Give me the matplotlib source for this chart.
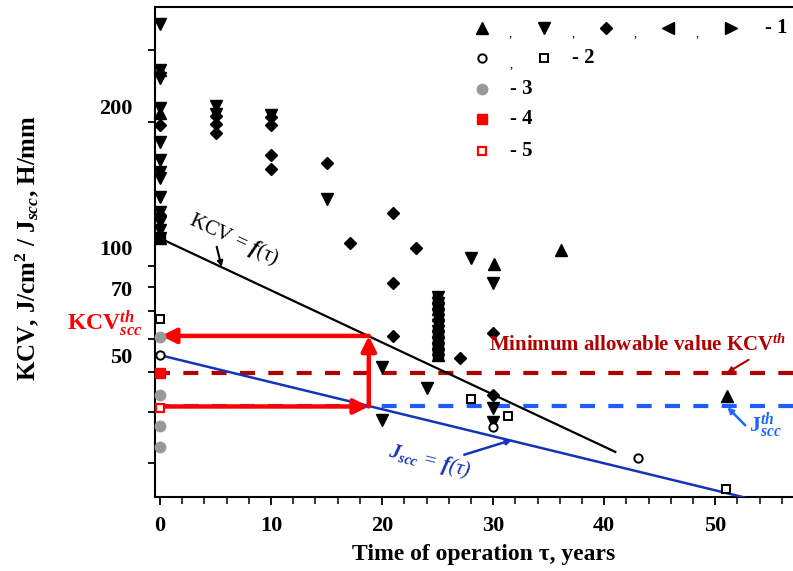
import matplotlib
matplotlib.use("Agg")
import matplotlib.pyplot as plt
import numpy as np

plt.rcParams['font.family'] = ['Liberation Serif', 'DejaVu Serif']
plt.rcParams['font.weight'] = 'bold'
plt.rcParams['mathtext.fontset'] = 'custom'
plt.rcParams['mathtext.rm'] = 'Liberation Serif:bold'
plt.rcParams['mathtext.it'] = 'Liberation Serif:italic:bold'
plt.rcParams['mathtext.bf'] = 'Liberation Serif:bold'
plt.rcParams['mathtext.sf'] = 'Liberation Serif:italic'

# ---------------- data ----------------
# series 1 (black filled markers)
tri_up_tau = [0, 0, 0, 36.1, 30.06, 51.1, 25, 25, 25, 25, 25, 25, 25, 25, 25, 25]
tri_up_val = [267.6, 210.7, 105.1, 98.3, 90.8, 43.7, 75.7, 73.2, 70.8, 68.5, 64.8, 62.7, 60.6, 58.6, 56.7, 54.8]

tri_dn_tau = [0, 0, 0, 0, 0, 0, 0, 0, 0, 0, 0, 0, 0,
              5, 5, 10, 15, 20, 20, 24, 28, 30, 30, 30,
              25, 25, 25, 25, 25, 25, 25, 25, 25, 25]
tri_dn_val = [345.6, 267.6, 256.0, 216.7, 179.3, 162.3, 151.8, 146.8, 132.1, 121.5, 114.9, 109.9, 105.1,
              219.0, 210.0, 208.0, 130.6, 51.4, 38.2, 45.6, 94.2, 81.7, 40.8, 37.8,
              75.7, 73.2, 70.8, 68.5, 64.8, 62.7, 60.6, 58.6, 56.7, 54.8]

diam_tau = [0, 0, 5, 5, 5, 10, 10, 10, 10, 15, 17.1, 21, 21, 21, 23.07, 27, 30, 30]
diam_val = [197.1, 119.5, 207.0, 198.6, 188.3, 206.0, 197.0, 166.8, 154.3, 159.8, 102.4,
            120.6, 81.7, 61.0, 99.3, 53.8, 61.9, 43.9]

tri_l_tau = [0, 25, 25, 25, 25, 25, 25]
tri_l_val = [105.1, 73.2, 68.5, 64.8, 60.6, 56.7, 54.8]
tri_r_tau = [0, 25, 25, 25, 25, 25, 25]
tri_r_val = [105.1, 75.7, 70.8, 62.7, 58.6, 56.7, 54.8]

# series 2 (open black)
circ_tau = [0, 30, 43]
circ_val = [54.8, 36.8, 31.0]
sq_tau = [0, 28, 31.3, 51]
sq_val = [67.0, 43.0, 39.1, 26.0]

# series 3 (grey)
grey_tau = [0, 0, 0, 0]
grey_val = [60.7, 43.9, 36.9, 32.9]

# series 4 / 5 (red)
red_fill_tau = [0]
red_fill_val = [49.7]
red_open_tau = [0]
red_open_val = [40.9]

# fitted trends
kcv_fit_tau = [0, 41]
kcv_fit_val = [105, 32]
j_fit_tau = [0, 53]
j_fit_val = [54.8, 24.7]

# thresholds
kcv_min = 49.7
j_th = 41.2
kcv_th_scc = 61.0
tau_cross = 18.8

x_major = [0, 10, 20, 30, 40, 50]
y_marks = [30, 40, 50, 60, 70, 80, 90, 100, 200, 300]
y_label_pos = [54.8, 79.6, 100, 219]
y_labels = ['50', '70', '100', '200']

# ---------------- figure ----------------
fig = plt.figure(figsize=(7.93, 5.71), dpi=100)
ax = fig.add_axes([0.1955, 0.1296, 0.8045, 0.8581])
ax.set_yscale('log')
ax.set_xlim(-0.45, 57)
ax.set_ylim(24.9, 380)

for s in ['left', 'bottom', 'top']:
    ax.spines[s].set_linewidth(1.5)
ax.spines['right'].set_visible(False)

ax.set_xticks(x_major)
ax.set_xticklabels([str(v) for v in x_major])
ax.set_xticks(np.arange(0, 57, 2), minor=True)
ax.tick_params(axis='x', which='major', length=6, width=1.3, direction='out', labelsize=16, pad=8)
ax.tick_params(axis='x', which='minor', length=5, width=1.1, direction='out')

ax.set_yticks(y_marks, minor=True)
ax.set_yticks(y_label_pos)
ax.set_yticklabels(y_labels)
ax.yaxis.set_minor_formatter(matplotlib.ticker.NullFormatter())
ax.tick_params(axis='y', which='major', length=0, labelsize=16, pad=16)
ax.tick_params(axis='y', which='minor', length=5, width=1.3, direction='out')

ax.set_xlabel('Time of operation \u03c4, years', fontsize=17, fontweight='bold', va='center')
ax.xaxis.set_label_coords(0.5157, -0.117)
ax.set_ylabel(r'KCV, J/cm$^{\mathbf{2}}$ / J$_{scc}$, H/mm', fontsize=18, fontweight='bold', va='center')
ax.yaxis.set_label_coords(-0.2, 0.508)

# threshold dashed lines
ax.axhline(kcv_min, color='#B00000', lw=3, dashes=(3.6, 3.2), zorder=2)
ax.axhline(j_th, color='#1E5EFF', lw=3, dashes=(3.6, 3.2), zorder=2)

# fits
ax.plot(kcv_fit_tau, kcv_fit_val, color='black', lw=1.6, zorder=3)
ax.plot(j_fit_tau, j_fit_val, color='#1433B8', lw=1.8, zorder=3)

# red construction arrows
arr = dict(arrowstyle='-|>', color='#FF0000', lw=3.2, mutation_scale=22, shrinkA=0, shrinkB=0)
ax.annotate('', xy=(tau_cross, j_th), xytext=(0, j_th), arrowprops=arr, zorder=4)
ax.annotate('', xy=(tau_cross, kcv_th_scc), xytext=(tau_cross, j_th), arrowprops=arr, zorder=4)
ax.annotate('', xy=(0.1, kcv_th_scc), xytext=(tau_cross, kcv_th_scc), arrowprops=arr, zorder=4)

# markers
mk = dict(linestyle='none', clip_on=False, zorder=5)
ax.plot(tri_up_tau, tri_up_val, '^', color='black', ms=8.5, **mk)
ax.plot(tri_dn_tau, tri_dn_val, 'v', color='black', ms=8.5, **mk)
ax.plot(diam_tau, diam_val, 'D', color='black', ms=6.6, **mk)
ax.plot(tri_l_tau, tri_l_val, '<', color='black', ms=7, **mk)
ax.plot(tri_r_tau, tri_r_val, '>', color='black', ms=7, **mk)
ax.plot(circ_tau, circ_val, 'o', mfc='white', mec='black', mew=1.4, ms=6, **mk)
ax.plot(sq_tau, sq_val, 's', mfc='white', mec='black', mew=1.4, ms=6, **mk)
ax.plot(grey_tau, grey_val, 'o', color='#999999', ms=7.5, **mk)
ax.plot(red_fill_tau, red_fill_val, 's', color='#FF0000', ms=7, **mk)
ax.plot(red_open_tau, red_open_val, 's', mfc='white', mec='#FF0000', mew=1.6, ms=6, **mk)

# annotations
ax.text(6.66, 104, 'KCV = $\\mathsf{f}$(\u03c4)', fontsize=15,
        fontweight='normal', rotation=-25, ha='center', va='center', zorder=6)
ax.annotate('', xy=(5.55, 89.6), xytext=(5.1, 100.2),
            arrowprops=dict(arrowstyle='-|>', color='black', lw=1.5, mutation_scale=8, shrinkA=0, shrinkB=0))

ax.text(24.3, 30.3, '$J_{scc}$ = $\\mathsf{f}$(\u03c4)', fontsize=15, color='#1433B8',
        fontweight='normal', style='italic', rotation=-14, ha='center', va='center', zorder=6)
ax.annotate('', xy=(31.7, 34.2), xytext=(27.4, 31.5),
            arrowprops=dict(arrowstyle='-|>', color='#1433B8', lw=1.8, mutation_scale=8, shrinkA=0, shrinkB=0))

ax.text(29.6, 58.0, 'Minimum allowable value KCV$^{th}$', fontsize=15, color='#B00000',
        ha='left', va='center', clip_on=False, zorder=6)
ax.annotate('', xy=(51.05, 49.7), xytext=(53.0, 53.4),
            arrowprops=dict(arrowstyle='-|>', color='#B00000', lw=1.5, mutation_scale=8, shrinkA=0, shrinkB=0))

ax.text(54.5, 37.1, r'$\mathbf{J}^{th}_{scc}$', fontsize=16, color='#1E64FF',
        ha='center', va='center', zorder=6)
ax.annotate('', xy=(51.1, 41.0), xytext=(52.7, 37.1),
            arrowprops=dict(arrowstyle='-|>', color='#1E64FF', lw=1.8, mutation_scale=8, shrinkA=0, shrinkB=0))

ax.text(-8.37, 63.0, r'KCV$^{th}_{scc}$', fontsize=17, color='#FF0000',
        ha='left', va='baseline', clip_on=False, zorder=6)

# custom legend (axes fraction)
T = ax.transAxes
lg = dict(transform=T, clip_on=False, linestyle='none', zorder=7)
row_y = [0.957, 0.896, 0.833, 0.771, 0.706]
mx = [0.5125, 0.6097, 0.7069, 0.804, 0.903]
ax.plot([mx[0]], [row_y[0]], '^', color='black', ms=8.5, **lg)
ax.plot([mx[1]], [row_y[0]], 'v', color='black', ms=8.5, **lg)
ax.plot([mx[2]], [row_y[0]], 'D', color='black', ms=6.6, **lg)
ax.plot([mx[3]], [row_y[0]], '<', color='black', ms=8.5, **lg)
ax.plot([mx[4]], [row_y[0]], '>', color='black', ms=8.5, **lg)
for cx in [0.556, 0.655, 0.752, 0.85]:
    ax.text(cx, row_y[0] - 0.012, ',', transform=T, fontsize=9, fontweight='normal', ha='center', va='center')
ax.text(0.956, row_y[0], '- 1', transform=T, fontsize=15, ha='left', va='center')

ax.plot([mx[0]], [row_y[1]], 'o', mfc='white', mec='black', mew=1.4, ms=6, **lg)
ax.plot([mx[1]], [row_y[1]], 's', mfc='white', mec='black', mew=1.4, ms=6, **lg)
ax.text(0.558, row_y[1] - 0.014, ',', transform=T, fontsize=9, fontweight='normal', ha='center', va='center')
ax.text(0.654, row_y[1], '- 2', transform=T, fontsize=15, ha='left', va='center')

ax.plot([mx[0]], [row_y[2]], 'o', color='#999999', ms=7.5, **lg)
ax.text(0.556, row_y[2], '- 3', transform=T, fontsize=15, ha='left', va='center')
ax.plot([mx[0]], [row_y[3]], 's', color='#FF0000', ms=7, **lg)
ax.text(0.556, row_y[3], '- 4', transform=T, fontsize=15, ha='left', va='center')
ax.plot([mx[0]], [row_y[4]], 's', mfc='white', mec='#FF0000', mew=1.6, ms=6, **lg)
ax.text(0.556, row_y[4], '- 5', transform=T, fontsize=15, ha='left', va='center')

fig.savefig('out.png', dpi=100)
